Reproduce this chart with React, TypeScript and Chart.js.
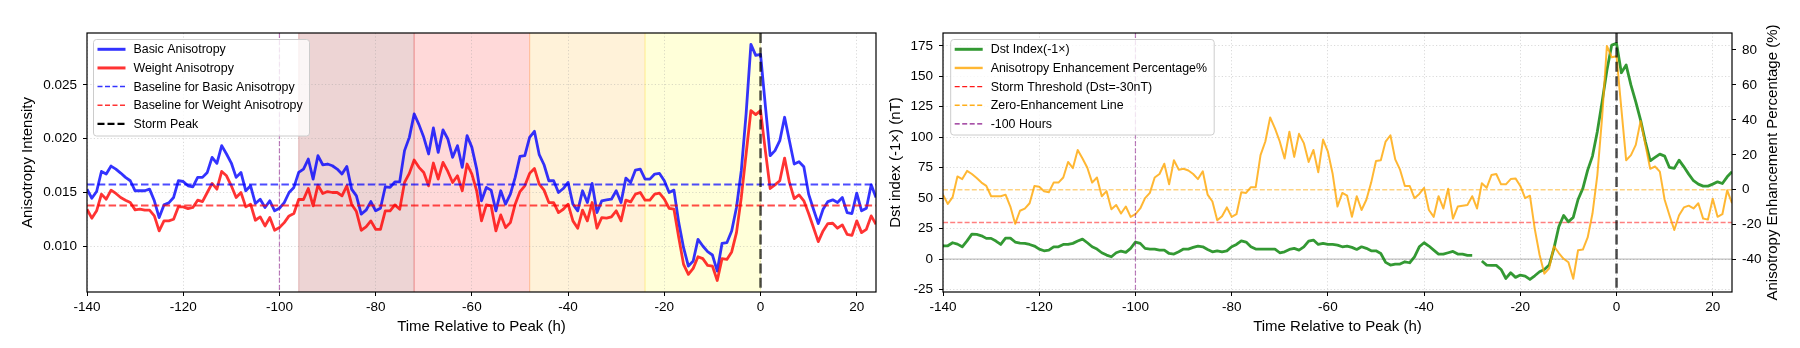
import React, { useEffect, useRef } from "react";
import { Chart, registerables } from "chart.js";

Chart.register(...registerables);

const FONT = "'Liberation Sans', Arial, Helvetica, sans-serif";

// ---------------- DATA ----------------
const HOUR_START = -140;
const HOUR_END = 24;
const hours: number[] = [];
for (let h = HOUR_START; h <= HOUR_END; h++) hours.push(h);

const basicAnisotropy = [
  0.01533, 0.01449, 0.01511, 0.01697, 0.01673, 0.01747, 0.01719, 0.01682, 0.01642, 0.01611,
  0.01518, 0.01518, 0.01518, 0.01533, 0.01425, 0.0127, 0.01387, 0.01406, 0.01456, 0.01611,
  0.01604, 0.01564, 0.01555, 0.01642, 0.01642, 0.01688, 0.01828, 0.01772, 0.01936, 0.01859,
  0.01775, 0.01642, 0.01688, 0.01518, 0.01564, 0.014, 0.0144, 0.01363, 0.01425, 0.01332,
  0.01356, 0.01409, 0.01502, 0.01549, 0.01688, 0.01719, 0.01812, 0.01626, 0.01843, 0.01759,
  0.01766, 0.0175, 0.01719, 0.01673, 0.01744, 0.01533, 0.01471, 0.01301, 0.01338, 0.01418,
  0.01332, 0.01356, 0.01555, 0.01549, 0.01601, 0.01601, 0.0189, 0.02013, 0.0223, 0.02131,
  0.02013, 0.01859, 0.021, 0.01874, 0.02082, 0.01998, 0.01828, 0.01936, 0.01735, 0.02029,
  0.0192, 0.01719, 0.01425, 0.01549, 0.01524, 0.01332, 0.01518, 0.01394, 0.01487, 0.01642,
  0.01837, 0.01843, 0.02013, 0.02069, 0.01852, 0.01759, 0.01611, 0.01611, 0.01502, 0.01539,
  0.01595, 0.01394, 0.01332, 0.01518, 0.01409, 0.01586, 0.01316, 0.01425, 0.01434, 0.0144,
  0.01518, 0.01409, 0.01635, 0.01595, 0.0171, 0.01719, 0.01626, 0.01626, 0.01673, 0.01679,
  0.01611, 0.01502, 0.01524, 0.01223, 0.00991, 0.0082, 0.00867, 0.01068, 0.01006, 0.00954,
  0.00923, 0.00774, 0.01031, 0.01037, 0.01146, 0.01363, 0.01704, 0.0223, 0.02875, 0.02773,
  0.02782, 0.02308, 0.01843, 0.0189, 0.01982, 0.02199, 0.01982, 0.01766, 0.01787, 0.01741,
  0.01487, 0.01347, 0.01214, 0.01347, 0.01418, 0.01434, 0.01409, 0.01456, 0.01316, 0.01307,
  0.01496, 0.01332, 0.01356, 0.01573, 0.01456,
];

const weightAnisotropy = [
  0.01347, 0.01264, 0.01332, 0.01487, 0.0144, 0.01524, 0.01493, 0.01456, 0.01431, 0.01409,
  0.01341, 0.01347, 0.01338, 0.01338, 0.01285, 0.01146, 0.01239, 0.01239, 0.01254, 0.01369,
  0.01369, 0.01353, 0.01363, 0.01431, 0.01418, 0.01502, 0.01586, 0.01533, 0.01697, 0.01657,
  0.01564, 0.01456, 0.01502, 0.01369, 0.01394, 0.01245, 0.01276, 0.01192, 0.0127, 0.01152,
  0.01177, 0.01223, 0.01285, 0.01307, 0.01437, 0.01437, 0.01539, 0.01378, 0.0157, 0.01493,
  0.01511, 0.01502, 0.01502, 0.01471, 0.01564, 0.01394, 0.01325, 0.01152, 0.01183, 0.01239,
  0.01161, 0.01161, 0.01332, 0.01332, 0.01387, 0.01347, 0.01595, 0.01679, 0.01803, 0.01735,
  0.01688, 0.01564, 0.01775, 0.01626, 0.01781, 0.01697, 0.01595, 0.01657, 0.01518, 0.01766,
  0.01673, 0.01518, 0.01239, 0.01387, 0.01378, 0.01146, 0.01294, 0.01177, 0.01223, 0.01394,
  0.01511, 0.01564, 0.01679, 0.01725, 0.0158, 0.01524, 0.01409, 0.01409, 0.01316, 0.01347,
  0.01394, 0.01239, 0.01171, 0.01338, 0.01239, 0.01409, 0.01171, 0.0127, 0.01264, 0.01276,
  0.01332, 0.01239, 0.01431, 0.01415, 0.01487, 0.01502, 0.01431, 0.01431, 0.01487, 0.01496,
  0.0144, 0.01356, 0.01347, 0.01084, 0.00836, 0.00743, 0.00799, 0.00907, 0.00889, 0.00827,
  0.0082, 0.00687, 0.00889, 0.00882, 0.00951, 0.0113, 0.01456, 0.01859, 0.02261, 0.02224,
  0.02261, 0.0189, 0.01539, 0.01573, 0.01611, 0.01821, 0.01595, 0.01446, 0.0148, 0.01425,
  0.01307, 0.01177, 0.01047, 0.01146, 0.01214, 0.01217, 0.01171, 0.01202, 0.01115, 0.01105,
  0.01239, 0.0113, 0.01161, 0.01285, 0.01208,
];

const enhancementPct = [
  -2.8, -8.1, -4.2, 7.6, 6.1, 10.8, 9.0, 6.7, 4.1, 2.2,
  -3.7, -3.7, -3.7, -2.8, -9.6, -19.5, -12.0, -10.8, -7.7, 2.2,
  1.7, -0.8, -1.4, 4.1, 4.1, 7.0, 15.9, 12.4, 22.8, 17.9,
  12.6, 4.1, 7.0, -3.7, -0.8, -11.2, -8.7, -13.6, -9.6, -15.5,
  -14.0, -10.7, -4.8, -1.8, 7.0, 9.0, 14.9, 3.1, 16.9, 11.5,
  12.0, 11.0, 9.0, 6.1, 10.6, -2.8, -6.7, -17.5, -15.2, -10.1,
  -15.5, -14.0, -1.4, -1.8, 1.5, 1.5, 19.8, 27.6, 41.4, 35.1,
  27.6, 17.9, 33.2, 18.8, 32.0, 26.7, 15.9, 22.8, 10.0, 28.7,
  21.8, 9.0, -9.6, -1.8, -3.4, -15.5, -3.7, -11.6, -5.7, 4.1,
  16.5, 16.9, 27.6, 31.2, 17.4, 11.5, 2.2, 2.2, -4.8, -2.4,
  1.1, -11.6, -15.5, -3.7, -10.7, 0.6, -16.5, -9.6, -9.1, -8.7,
  -3.7, -10.7, 3.7, 1.1, 8.4, 9.0, 3.1, 3.1, 6.1, 6.5,
  2.2, -4.8, -3.4, -22.4, -37.2, -48.0, -45.0, -32.3, -36.2, -39.5,
  -41.5, -50.9, -34.6, -34.2, -27.3, -13.6, 8.1, 41.4, 82.3, 75.8,
  76.4, 46.4, 16.9, 19.8, 25.7, 39.4, 25.7, 12.0, 13.3, 10.4,
  -5.7, -14.6, -23.0, -14.6, -10.1, -9.1, -10.7, -7.7, -16.5, -17.1,
  -5.1, -15.5, -14.0, -0.3, -7.7,
];

const dstIndexNeg: (number | null)[] = [
  10.9, 10.9, 13.4, 12.3, 10.1, 15.0, 20.5, 20.2, 19.1, 17.0,
  17.0, 14.8, 12.0, 17.2, 17.2, 14.0, 13.1, 12.9, 12.0, 10.7,
  8.2, 6.8, 7.4, 10.1, 10.1, 12.0, 12.0, 12.9, 14.8, 16.4,
  13.4, 10.1, 8.2, 5.2, 3.3, 1.9, 5.2, 6.6, 5.5, 8.8,
  14.0, 12.9, 8.8, 8.2, 8.2, 7.4, 7.4, 4.6, 4.1, 6.0,
  8.2, 8.2, 9.6, 10.7, 10.1, 7.9, 6.0, 6.8, 6.0, 6.8,
  10.1, 12.0, 15.0, 14.0, 10.1, 8.2, 8.2, 8.2, 8.2, 8.2,
  5.2, 6.0, 7.9, 8.8, 7.4, 10.1, 14.8, 15.6, 12.0, 12.9,
  12.0, 12.0, 11.5, 10.1, 10.7, 9.6, 7.9, 10.1, 8.8, 6.8,
  6.8, 4.6, -2.7, -4.9, -4.1, -4.1, -2.2, -3.0, 1.9, 10.1,
  13.4, 10.7, 7.4, 4.1, 4.1, 5.2, 6.3, 4.1, 4.1, 3.0,
  3.0, null, -1.6, -4.9, -5.2, -5.2, -8.5, -15.9, -11.2, -15.0,
  -13.1, -13.9, -16.7, -13.7, -10.4, -8.5, -4.9, 9.0, 26.5, 35.8,
  30.6, 34.2, 48.9, 58.0, 73.0, 84.5, 104.5, 129.0, 155.0, 175.6,
  177.0, 152.9, 159.2, 142.7, 129.0, 114.0, 96.3, 80.7, 83.4, 86.1,
  84.5, 75.2, 74.4, 81.2, 75.7, 69.7, 64.3, 61.5, 59.9, 59.9,
  61.5, 63.4, 62.0, 67.5, 71.6,
];

const BASIC_BASELINE = 0.01577;
const WEIGHT_BASELINE = 0.01381;
const STORM_PEAK_HOUR = 0;
const MARK_HOUR = -100;
const STORM_THRESHOLD = 30;
const ZERO_ENHANCEMENT = 0;

const phaseStarts = [-96, -72, -48, -24];
const phaseEnds = [-72, -48, -24, 0];
const phaseColors = [
  "rgba(165,42,42,0.2)",
  "rgba(255,0,0,0.15)",
  "rgba(255,165,0,0.15)",
  "rgba(255,255,0,0.15)",
];

const leftLegendLabels = [
  "Basic Anisotropy",
  "Weight Anisotropy",
  "Baseline for Basic Anisotropy",
  "Baseline for Weight Anisotropy",
  "Storm Peak",
];
const rightLegendLabels = [
  "Dst Index(-1×)",
  "Anisotropy Enhancement Percentage%",
  "Storm Threshold (Dst=-30nT)",
  "Zero-Enhancement Line",
  "-100 Hours",
];

// ---------------- STYLES ----------------
const C_BLUE = "rgba(0,0,255,0.8)";
const C_RED = "rgba(255,0,0,0.8)";
const C_GREEN = "rgba(0,128,0,0.8)";
const C_ORANGE = "rgba(255,165,0,0.8)";
const GRID = "rgba(150,150,150,0.35)";

type LegendItem = { label: string; color: string; width: number; dash: number[] };

const tickFont = { family: FONT, size: 13.5 };
const titleFont = { family: FONT, size: 15 };

function pts(ys: (number | null)[]) {
  return hours.map((h, i) => ({ x: h, y: ys[i] }));
}
function hline(v: number) {
  return [
    { x: HOUR_START, y: v },
    { x: HOUR_END, y: v },
  ];
}

function drawVLine(chart: any, xv: number, color: string, width: number, dash: number[]) {
  const { ctx, chartArea } = chart;
  const px = chart.scales.x.getPixelForValue(xv);
  ctx.save();
  ctx.beginPath();
  ctx.rect(chartArea.left, chartArea.top, chartArea.right - chartArea.left, chartArea.bottom - chartArea.top);
  ctx.clip();
  ctx.beginPath();
  ctx.strokeStyle = color;
  ctx.lineWidth = width;
  ctx.setLineDash(dash);
  ctx.moveTo(px, chartArea.top);
  ctx.lineTo(px, chartArea.bottom);
  ctx.stroke();
  ctx.restore();
}

function drawFrame(chart: any) {
  const { ctx, chartArea } = chart;
  ctx.save();
  ctx.strokeStyle = "#000";
  ctx.lineWidth = 1.2;
  ctx.setLineDash([]);
  ctx.strokeRect(chartArea.left, chartArea.top, chartArea.right - chartArea.left, chartArea.bottom - chartArea.top);
  ctx.restore();
}

function drawLegend(chart: any, items: LegendItem[], box: { x: number; y: number; w: number; h: number }) {
  const ctx = chart.ctx;
  ctx.save();
  ctx.beginPath();
  if ((ctx as any).roundRect) (ctx as any).roundRect(box.x, box.y, box.w, box.h, 3);
  else ctx.rect(box.x, box.y, box.w, box.h);
  ctx.fillStyle = "rgba(255,255,255,0.8)";
  ctx.fill();
  ctx.strokeStyle = "rgba(204,204,204,1)";
  ctx.lineWidth = 1;
  ctx.stroke();
  const rowY0 = box.y + 9.8;
  const step = 18.65;
  items.forEach((it, i) => {
    const y = rowY0 + i * step;
    ctx.beginPath();
    ctx.setLineDash(it.dash);
    ctx.strokeStyle = it.color;
    ctx.lineWidth = it.width;
    ctx.moveTo(box.x + 4, y);
    ctx.lineTo(box.x + 32, y);
    ctx.stroke();
    ctx.setLineDash([]);
    ctx.fillStyle = "#000";
    ctx.font = `12.4px ${FONT}`;
    ctx.textBaseline = "middle";
    ctx.textAlign = "left";
    ctx.fillText(it.label, box.x + 40, y + 0.5);
  });
  ctx.restore();
}

const xScale = (showGrid = true) => ({
  type: "linear" as const,
  min: HOUR_START,
  max: HOUR_END,
  position: "bottom" as const,
  ticks: {
    stepSize: 20,
    includeBounds: false,
    autoSkip: false,
    maxRotation: 0,
    font: tickFont,
    color: "#000",
    padding: 3,
    callback: (v: any) => String(v),
  },
  grid: {
    display: showGrid,
    color: GRID,
    lineWidth: 1,
    drawTicks: true,
    tickLength: 4,
    tickColor: "#000",
    tickWidth: 1,
  },
  border: { display: false, dash: [1.2, 2.2] },
  title: {
    display: true,
    text: "Time Relative to Peak (h)",
    font: titleFont,
    color: "#000",
    padding: { top: 0, bottom: 12 },
  },
  afterFit: (s: any) => {
    s.height = 56;
  },
});

function leftConfig(): any {
  const legendItems: LegendItem[] = [
    { label: leftLegendLabels[0], color: C_BLUE, width: 3, dash: [] },
    { label: leftLegendLabels[1], color: C_RED, width: 3, dash: [] },
    { label: leftLegendLabels[2], color: "rgba(0,0,255,0.8)", width: 1.5, dash: [5, 2.5] },
    { label: leftLegendLabels[3], color: "rgba(255,0,0,0.8)", width: 1.5, dash: [5, 2.5] },
    { label: leftLegendLabels[4], color: "#000", width: 2.2, dash: [7, 3] },
  ];
  const plugin = {
    id: "leftDeco",
    beforeDraw(chart: any) {
      const { ctx, chartArea } = chart;
      const xs = chart.scales.x;
      ctx.save();
      phaseStarts.forEach((s, i) => {
        const x0 = xs.getPixelForValue(s);
        const x1 = xs.getPixelForValue(phaseEnds[i]);
        ctx.fillStyle = phaseColors[i];
        ctx.fillRect(x0, chartArea.top, x1 - x0, chartArea.bottom - chartArea.top);
        ctx.strokeStyle = phaseColors[i];
        ctx.lineWidth = 1.3;
        ctx.beginPath();
        ctx.moveTo(x0, chartArea.top);
        ctx.lineTo(x0, chartArea.bottom);
        ctx.moveTo(x1, chartArea.top);
        ctx.lineTo(x1, chartArea.bottom);
        ctx.stroke();
      });
      ctx.restore();
    },
    afterDatasetsDraw(chart: any) {
      drawVLine(chart, MARK_HOUR, "rgba(128,0,128,0.5)", 1.2, [5, 2.2]);
      drawVLine(chart, STORM_PEAK_HOUR, "rgba(0,0,0,0.7)", 2.5, [10, 4.4]);
      drawFrame(chart);
    },
    afterDraw(chart: any) {
      drawLegend(chart, legendItems, { x: 93.5, y: 39.5, w: 216, h: 96.5 });
    },
  };
  return {
    type: "line",
    data: {
      datasets: [
        { data: pts(basicAnisotropy), borderColor: C_BLUE, borderWidth: 2.8, pointRadius: 0, order: 3 },
        { data: pts(weightAnisotropy), borderColor: C_RED, borderWidth: 2.8, pointRadius: 0, order: 2 },
        { data: hline(BASIC_BASELINE), borderColor: "rgba(0,0,255,0.7)", borderWidth: 2, borderDash: [7.5, 3.3], pointRadius: 0, order: 1 },
        { data: hline(WEIGHT_BASELINE), borderColor: "rgba(255,0,0,0.7)", borderWidth: 2, borderDash: [7.5, 3.3], pointRadius: 0, order: 1 },
      ],
    },
    options: {
      animation: false,
      responsive: false,
      devicePixelRatio: 1,
      parsing: true,
      layout: { padding: { top: 33, left: 0, right: 4, bottom: 0 } },
      plugins: { legend: { display: false }, tooltip: { enabled: false } },
      elements: { line: { tension: 0, borderJoinStyle: "round", borderCapStyle: "butt" } },
      scales: {
        x: xScale(),
        y: {
          type: "linear",
          min: 0.0058,
          max: 0.0298,
          ticks: {
            stepSize: 0.005,
            includeBounds: false,
            font: tickFont,
            color: "#000",
            padding: 6,
            callback: (v: any) => Number(v).toFixed(3),
          },
          grid: { color: GRID, lineWidth: 1, drawTicks: true, tickLength: 4, tickColor: "#000", tickWidth: 1 },
          border: { display: false, dash: [1.2, 2.2] },
          title: {
            display: true,
            text: "Anisotropy Intensity",
            font: titleFont,
            color: "#000",
            padding: { top: 19, bottom: 0 },
          },
          afterFit: (s: any) => {
            s.width = 87;
          },
        },
      },
    },
    plugins: [plugin],
  };
}

function rightConfig(): any {
  const legendItems: LegendItem[] = [
    { label: rightLegendLabels[0], color: C_GREEN, width: 3, dash: [] },
    { label: rightLegendLabels[1], color: C_ORANGE, width: 2.4, dash: [] },
    { label: rightLegendLabels[2], color: "rgba(255,0,0,0.9)", width: 1.4, dash: [5, 2.5] },
    { label: rightLegendLabels[3], color: "rgba(255,165,0,0.9)", width: 1.4, dash: [5, 2.5] },
    { label: rightLegendLabels[4], color: "rgba(128,0,128,0.9)", width: 1.4, dash: [5, 2.5] },
  ];
  const plugin = {
    id: "rightDeco",
    afterDatasetsDraw(chart: any) {
      drawVLine(chart, MARK_HOUR, "rgba(128,0,128,0.5)", 1.2, [5, 2.2]);
      drawVLine(chart, STORM_PEAK_HOUR, "rgba(0,0,0,0.7)", 2.5, [10, 4.4]);
      drawFrame(chart);
    },
    afterDraw(chart: any) {
      drawLegend(chart, legendItems, { x: 70.7, y: 39.5, w: 263.5, h: 95.5 });
      const { ctx, chartArea } = chart;
      ctx.save();
      ctx.translate(893, (chartArea.top + chartArea.bottom) / 2);
      ctx.rotate(-Math.PI / 2);
      ctx.font = `15px ${FONT}`;
      ctx.fillStyle = "#000";
      ctx.textAlign = "center";
      ctx.textBaseline = "middle";
      ctx.fillText("Anisotropy Enhancement Percentage (%)", 0, 0);
      ctx.restore();
    },
  };
  return {
    type: "line",
    data: {
      datasets: [
        { data: pts(enhancementPct), yAxisID: "y2", borderColor: C_ORANGE, borderWidth: 2, pointRadius: 0, order: 1 },
        { data: hline(ZERO_ENHANCEMENT), yAxisID: "y2", borderColor: "rgba(255,165,0,0.5)", borderWidth: 1.4, borderDash: [5, 2.2], pointRadius: 0, order: 2 },
        { data: pts(dstIndexNeg), yAxisID: "y", borderColor: C_GREEN, borderWidth: 2.8, pointRadius: 0, spanGaps: false, order: 3 },
        { data: hline(STORM_THRESHOLD), yAxisID: "y", borderColor: "rgba(255,0,0,0.5)", borderWidth: 1.4, borderDash: [5, 2.2], pointRadius: 0, order: 4 },
        { data: hline(0), yAxisID: "y", borderColor: "rgba(0,0,0,0.3)", borderWidth: 1, pointRadius: 0, order: 5 },
      ],
    },
    options: {
      animation: false,
      responsive: false,
      devicePixelRatio: 1,
      layout: { padding: { top: 33, left: 0, right: 0, bottom: 0 } },
      plugins: { legend: { display: false }, tooltip: { enabled: false } },
      elements: { line: { tension: 0, borderJoinStyle: "round", borderCapStyle: "butt" } },
      scales: {
        x: xScale(),
        y: {
          type: "linear",
          position: "left",
          min: -27,
          max: 185.5,
          ticks: {
            stepSize: 25,
            includeBounds: false,
            font: tickFont,
            color: "#000",
            padding: 6,
            callback: (v: any) => String(v),
          },
          grid: { color: GRID, lineWidth: 1, drawTicks: true, tickLength: 4, tickColor: "#000", tickWidth: 1 },
          border: { display: false, dash: [1.2, 2.2] },
          title: {
            display: true,
            text: "Dst index (-1×) (nT)",
            font: titleFont,
            color: "#000",
            padding: { top: 7, bottom: 0 },
          },
          afterFit: (s: any) => {
            s.width = 63;
          },
        },
        y2: {
          type: "linear",
          position: "right",
          min: -58.5,
          max: 89.7,
          ticks: {
            stepSize: 20,
            includeBounds: false,
            font: tickFont,
            color: "#000",
            padding: 6,
            callback: (v: any) => String(v),
          },
          grid: { drawOnChartArea: false, drawTicks: true, tickLength: 4, tickColor: "#000", tickWidth: 1, color: GRID },
          border: { display: false },
          afterFit: (s: any) => {
            s.width = 68;
          },
        },
      },
    },
    plugins: [plugin],
  };
}

export default function App() {
  const leftRef = useRef<HTMLCanvasElement>(null);
  const rightRef = useRef<HTMLCanvasElement>(null);
  useEffect(() => {
    const left = new Chart(leftRef.current as HTMLCanvasElement, leftConfig());
    const right = new Chart(rightRef.current as HTMLCanvasElement, rightConfig());
    return () => {
      left.destroy();
      right.destroy();
    };
  }, []);
  return (
    <div style={{ position: "absolute", left: 0, top: 0, width: 1800, height: 348, background: "#fff" }}>
      <canvas
        ref={leftRef}
        width={880}
        height={348}
        style={{ position: "absolute", left: 0, top: 0, width: 880, height: 348 }}
      />
      <canvas
        ref={rightRef}
        width={920}
        height={348}
        style={{ position: "absolute", left: 880, top: 0, width: 920, height: 348 }}
      />
    </div>
  );
}
